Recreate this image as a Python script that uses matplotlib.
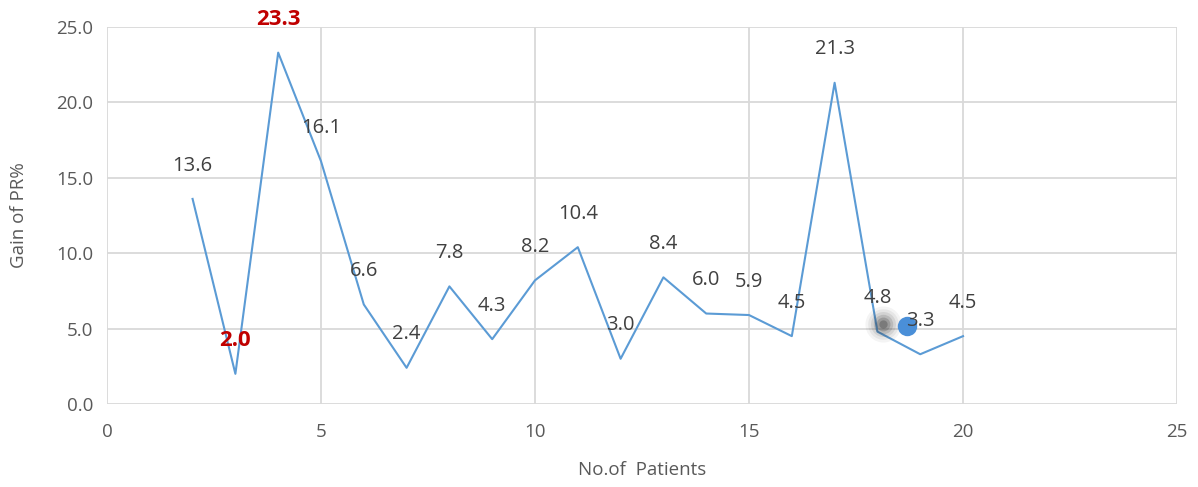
import matplotlib.pyplot as plt
from matplotlib.ticker import FormatStrFormatter

plt.rcParams['font.family'] = ['Open Sans', 'DejaVu Sans']

patients = list(range(2, 21))
gain = [13.6, 2.0, 23.3, 16.1, 6.6, 2.4, 7.8, 4.3, 8.2, 10.4,
        3.0, 8.4, 6.0, 5.9, 4.5, 21.3, 4.8, 3.3, 4.5]
highlight = [2.0, 23.3]  # min and max shown in red

# stray marks sitting near patient 18
dot_x, dot_y = 18.69, 5.17
smudge_x, smudge_y = 18.13, 5.3

grey = '#595959'
fig = plt.figure(figsize=(11.98, 4.87), dpi=100)
ax = fig.add_axes([0.0893, 0.1704, 0.8932, 0.7742])

ax.plot(patients, gain, color='#5B9BD5', lw=1.5, zorder=3)

for x, y in zip(patients, gain):
    if y in highlight:
        ax.annotate(f'{y:.1f}', (x, y), xytext=(0, 24), textcoords='offset points',
                    ha='center', va='center', fontsize=16, color='#C00000',
                    fontweight='bold', zorder=5)
    else:
        ax.annotate(f'{y:.1f}', (x, y), xytext=(0, 24), textcoords='offset points',
                    ha='center', va='center', fontsize=14.5, color='#404040', zorder=5)

# soft grey blot
for s, a in [(26, 0.05), (22, 0.07), (18, 0.10), (14, 0.15), (10, 0.22), (6, 0.3)]:
    ax.plot(smudge_x, smudge_y, 'o', ms=s, color='#303030', alpha=a, mec='none', zorder=4)
ax.plot(dot_x, dot_y, 'o', ms=14, color='#4A8FD8', mec='none', zorder=4)

ax.set_xlim(0, 25)
ax.set_ylim(0, 25)
ax.set_xticks(range(0, 26, 5))
ax.set_yticks(range(0, 26, 5))
ax.yaxis.set_major_formatter(FormatStrFormatter('%.1f'))
ax.grid(True, color='#D9D9D9', lw=1.3)
ax.set_axisbelow(True)
for sp in ax.spines.values():
    sp.set_visible(False)
ax.tick_params(length=0, labelsize=13.5, labelcolor=grey, pad=10)
ax.tick_params(axis='x', pad=14)

ax.set_xlabel('No.of  Patients', fontsize=13.5, color=grey, labelpad=14)
ax.set_ylabel('Gain of PR%', fontsize=13.5, color=grey, labelpad=20)

fig.savefig('out.png', dpi=100)
